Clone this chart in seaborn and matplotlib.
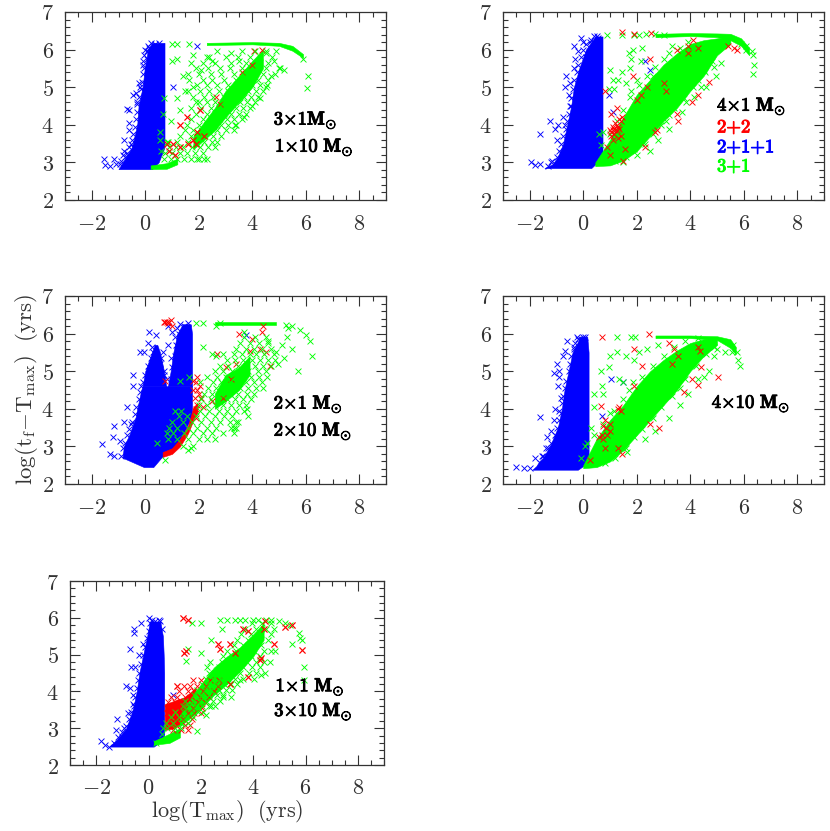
# Five panel scatter of log(t_f - T_max) against log(T_max)
import numpy as np
import matplotlib
matplotlib.use("Agg")
import matplotlib.pyplot as plt
import matplotlib.patheffects as pe
import seaborn as sns
from matplotlib.ticker import MultipleLocator

# ---------- DATA : dense regions as outlines, loose crosses as points ----------
X_TICKS = [-2, 0, 2, 4, 6, 8]
Y_TICKS = [2, 3, 4, 5, 6, 7]
X_LABEL = r"$\log(\mathrm{T}_{\mathrm{max}})\ \ (\mathrm{yrs})$"
Y_LABEL = r"$\log(\mathrm{t}_{\mathrm{f}}{-}\mathrm{T}_{\mathrm{max}})\ \ (\mathrm{yrs})$"

# panel 1
P1_BLUE_BAND = [(2.82, -1.0, 0.25), (3.0, -0.85, 0.5), (3.4, -0.5, 0.72), (4.0, -0.3, 0.72),
                (4.5, -0.25, 0.72), (5.0, -0.1, 0.72), (5.5, -0.02, 0.72), (6.0, 0.1, 0.72), (6.18, 0.25, 0.72)]
P1_GREEN_BANDS = [[(0.2, 2.82, 2.92), (0.8, 2.83, 2.98), (1.2, 2.95, 3.1)],
                  [(1.8, 3.35, 3.7), (2.6, 3.85, 4.45), (3.0, 4.2, 4.9), (3.5, 4.6, 5.3), (4.0, 5.0, 5.7), (4.4, 5.5, 6.0)],
                  [(2.3, 6.12, 6.18), (4.0, 6.14, 6.2), (5.0, 6.1, 6.18), (5.5, 5.97, 6.1), (5.9, 5.78, 5.88)]]
P1_BLUE = [(-1.55, 3.1), (-1.5, 2.93), (-1.3, 2.9), (-1.15, 3.1), (-1.1, 2.95), (-0.85, 3.2), (-0.8, 3.3),
           (-0.8, 3.6), (-0.6, 3.85), (-0.6, 4.05), (-0.7, 4.42), (-0.62, 4.4), (-0.45, 4.8), (-0.35, 4.85),
           (-0.25, 5.1), (-0.3, 4.6), (-0.2, 5.0), (-0.1, 5.6), (-0.05, 5.85), (0.0, 6.0), (0.05, 5.75),
           (0.15, 6.05), (0.2, 6.18), (0.3, 5.9), (1.05, 5.0), (1.95, 6.1), (-0.25, 3.9), (-0.45, 3.4), (-0.55, 3.5),
           (-0.95, 2.95), (-0.9, 3.05), (-0.75, 3.15), (-0.7, 3.25), (-0.6, 3.4), (-0.5, 3.6), (-0.45, 3.75),
           (-0.4, 3.95), (-0.35, 4.15), (-0.3, 4.35), (-0.3, 4.55), (-0.25, 4.75), (-0.15, 4.95), (-0.12, 5.15),
           (-0.1, 5.35), (-0.05, 5.5), (-0.1, 5.7), (0.05, 5.95), (0.1, 6.1), (0.35, 6.15), (0.5, 6.17)]
P1_RED = [(0.8, 3.5), (0.9, 3.3), (1.05, 3.5), (1.1, 3.2), (1.3, 3.4), (1.3, 4.0), (1.55, 4.2), (1.6, 3.5),
          (1.8, 3.6), (1.95, 3.8), (1.9, 3.5), (2.05, 4.4), (2.2, 3.7), (2.65, 4.75), (2.8, 4.55), (3.6, 5.4),
          (4.05, 5.95), (4.35, 6.0), (4.0, 5.6)]
P1_GREEN = [(0.7, 4.7), (0.65, 4.3), (0.55, 3.8), (0.55, 3.6), (0.6, 3.3), (0.95, 4.1), (0.85, 3.55), (1.0, 5.7),
            (1.2, 5.75), (1.0, 6.15), (1.2, 6.15), (1.65, 6.15), (1.7, 5.65), (1.8, 5.85), (2.1, 5.45), (1.4, 5.3),
            (1.6, 5.35), (1.2, 4.7), (1.3, 4.4), (1.5, 4.9), (1.8, 5.0), (1.9, 4.6), (2.3, 5.8), (2.5, 5.7),
            (3.2, 5.9), (3.5, 5.7), (2.0, 3.1), (2.3, 3.1), (2.6, 3.4), (3.3, 3.85), (3.4, 4.0), (3.7, 4.2),
            (4.0, 4.5), (4.3, 4.7), (4.5, 5.0), (4.7, 5.3), (5.05, 5.5), (4.8, 5.7), (4.5, 5.9), (5.2, 5.45),
            (6.1, 5.3), (6.05, 4.97), (5.9, 5.75)]
P1_GREEN_ROWS = [(3.1, [0.7, 0.95, 1.2, 1.45, 1.7, 1.95, 2.2]), (3.25, [0.75, 1.0, 1.3, 1.55, 1.85, 2.15]),
                 (3.4, [0.9, 1.15, 1.4, 1.75, 2.05, 2.35]), (3.55, [0.8, 1.2, 1.6, 1.9, 2.2, 2.5, 2.7]),
                 (3.7, [1.3, 1.7, 2.0, 2.25, 2.55, 2.85]), (3.85, [1.5, 1.8, 2.1, 2.4, 2.7, 3.0]),
                 (4.0, [1.55, 2.0, 2.3, 2.6, 2.85, 3.1, 3.35]), (4.15, [1.7, 2.15, 2.45, 2.75, 3.05, 3.3, 3.6]),
                 (4.3, [1.9, 2.3, 2.6, 2.95, 3.2, 3.5, 3.75]), (4.45, [1.7, 2.1, 2.45, 2.75, 3.1, 3.4, 3.65, 3.9]),
                 (4.6, [2.0, 2.3, 2.6, 2.9, 3.25, 3.55, 3.8, 4.1]), (4.75, [1.8, 2.2, 2.55, 2.95, 3.3, 3.7, 3.95, 4.2]),
                 (4.9, [1.6, 2.05, 2.4, 2.75, 3.1, 3.5, 3.85, 4.15, 4.4]), (5.05, [1.95, 2.3, 2.7, 3.1, 3.55, 4.0, 4.3, 4.55]),
                 (5.2, [1.65, 2.15, 2.5, 2.95, 3.4, 3.8, 4.2, 4.6]), (5.35, [2.0, 2.45, 2.85, 3.3, 3.65, 4.05, 4.4, 4.85]),
                 (5.5, [1.9, 2.35, 2.8, 3.15, 3.6, 4.15, 4.5, 5.0]), (5.65, [2.15, 2.6, 3.2, 3.75, 4.2, 4.6]),
                 (5.8, [2.4, 3.0, 3.45, 3.9, 4.3, 4.75]), (5.95, [2.7, 3.6, 4.1, 4.5, 4.9])]

# panel 2
P2_BLUE_BAND = [(2.85, -1.45, 0.3), (2.95, -1.15, 0.45), (3.15, -0.95, 0.72), (3.5, -0.75, 0.72), (4.0, -0.6, 0.72),
                (4.5, -0.45, 0.72), (5.0, -0.35, 0.72), (5.5, -0.15, 0.72), (6.0, 0.1, 0.72), (6.35, 0.45, 0.72)]
P2_GREEN_BANDS = [[(0.45, 2.9, 3.0), (1.0, 2.92, 3.6), (1.5, 3.05, 4.2), (2.0, 3.3, 4.8), (2.5, 3.7, 5.2),
                   (3.0, 4.1, 5.6), (3.5, 4.45, 5.9), (4.0, 4.9, 6.15), (4.5, 5.3, 6.25), (5.0, 5.85, 6.3), (5.5, 6.15, 6.35)],
                  [(2.7, 6.33, 6.42), (4.0, 6.36, 6.44), (5.0, 6.33, 6.43), (5.5, 6.25, 6.42), (5.9, 6.1, 6.3), (6.2, 5.85, 6.05)]]
P2_BLUE = [(-1.95, 3.0), (-1.8, 2.93), (-1.6, 2.95), (-1.6, 3.75), (-1.25, 4.1), (-1.15, 3.05), (-1.05, 3.9),
           (-1.0, 3.6), (-0.95, 4.0), (-0.85, 3.25), (-0.75, 4.2), (-0.7, 4.0), (-0.7, 5.0), (-0.65, 5.3),
           (-0.55, 4.8), (-0.5, 5.1), (-0.45, 4.5), (-0.35, 5.5), (-0.3, 5.75), (-0.2, 5.95), (-0.35, 6.1),
           (-0.1, 6.3), (0.0, 6.2), (0.1, 5.8), (0.25, 6.2), (0.4, 6.35), (0.55, 6.3), (0.1, 5.4), (0.95, 4.78),
           (1.1, 4.35), (2.3, 5.7), (2.5, 5.45),
           (-1.3, 2.9), (-1.2, 3.0), (-1.0, 3.15), (-0.9, 3.3), (-0.85, 3.5), (-0.75, 3.7), (-0.65, 3.9), (-0.6, 4.1),
           (-0.55, 4.3), (-0.5, 4.5), (-0.45, 4.7), (-0.4, 4.95), (-0.35, 5.2), (-0.25, 5.4), (-0.2, 5.6), (-0.1, 5.8),
           (0.0, 6.0), (0.1, 6.15), (0.3, 6.25), (0.5, 6.35)]
P2_GREEN = [(0.9, 6.4), (1.45, 6.4), (1.9, 6.4), (2.1, 6.4), (2.2, 6.05), (2.15, 5.7), (1.7, 5.9), (1.75, 5.5),
            (1.8, 5.75), (1.85, 6.0), (1.0, 5.45), (1.1, 5.2), (1.3, 5.2), (0.95, 4.95), (1.15, 4.95), (1.6, 5.1),
            (1.8, 4.9), (2.0, 5.2), (0.75, 3.8), (0.6, 3.75), (0.65, 3.45), (1.45, 5.4), (2.6, 5.3), (3.2, 5.9),
            (3.3, 6.1), (4.6, 5.0), (4.95, 5.3), (5.15, 5.65), (4.9, 5.55), (4.5, 5.45), (3.7, 4.35), (3.2, 3.9),
            (2.8, 3.6), (3.1, 4.1), (3.85, 4.6), (4.15, 4.75), (2.5, 3.3), (2.0, 3.2), (1.5, 3.0), (4.4, 5.0),
            (6.1, 6.0), (6.35, 5.85), (6.4, 5.6), (6.35, 5.35), (6.3, 5.95), (6.1, 6.1), (5.9, 6.15), (2.35, 6.42),
            (2.7, 6.42), (3.0, 6.4),
            (1.2, 3.05), (1.6, 3.15), (1.9, 3.35), (2.3, 3.5), (2.6, 3.75), (2.9, 4.0), (3.2, 4.25), (3.4, 4.45),
            (3.75, 4.7), (4.1, 5.0), (4.3, 5.2), (4.55, 5.4), (4.8, 5.7), (1.0, 3.75), (1.25, 4.1), (1.5, 4.4),
            (1.75, 4.75), (2.1, 5.05), (2.4, 5.3), (2.7, 5.55), (3.0, 5.75), (3.6, 6.05), (3.9, 6.2)]
P2_RED = [(1.45, 6.47), (2.55, 6.45), (1.9, 6.42), (0.8, 4.9), (1.05, 4.3), (1.25, 4.45), (1.0, 3.85), (1.1, 3.95),
          (1.15, 3.75), (1.2, 4.05), (1.3, 3.95), (1.4, 4.1), (1.45, 4.2), (1.25, 3.85), (1.3, 3.65), (1.4, 3.7),
          (1.1, 3.6), (0.9, 3.4), (1.0, 3.2), (1.55, 3.35), (2.0, 4.65), (1.85, 5.3), (2.15, 4.8), (2.5, 5.75),
          (2.4, 5.0), (3.0, 5.1), (3.1, 4.9), (3.55, 4.1), (3.5, 6.0), (3.9, 5.9), (3.9, 6.1), (4.1, 6.25),
          (4.3, 6.05), (5.4, 6.1), (5.65, 6.05), (5.75, 6.0), (4.7, 5.15), (4.3, 4.8), (4.05, 4.6), (3.5, 4.3),
          (2.7, 3.8), (2.75, 3.85), (2.3, 3.4), (1.5, 3.05), (1.05, 3.8), (1.15, 3.9), (1.2, 3.85), (1.25, 4.0),
          (1.35, 3.9), (1.05, 3.7), (1.35, 4.15), (1.1, 3.85)]

# panel 3
P3_BLUE_BAND = [(2.45, -0.05, 0.3), (2.7, -0.85, 0.6), (3.0, -0.8, 1.1), (3.3, -0.6, 1.4), (3.6, -0.45, 1.6),
                (3.8, -0.35, 1.75), (4.0, -0.3, 1.75), (4.5, -0.15, 1.75), (4.6, -0.1, 1.75)]
P3_BLUE_PEAKS = [[(4.6, -0.1, 0.78), (5.0, 0.0, 0.7), (5.5, 0.25, 0.55), (5.7, 0.35, 0.45)],
                 [(4.6, 0.85, 1.75), (5.0, 0.95, 1.75), (5.5, 1.05, 1.75), (6.0, 1.2, 1.75), (6.25, 1.4, 1.7)]]
P3_RED_BANDS = [[(0.65, 2.72, 2.85), (1.0, 2.8, 2.95), (1.3, 3.0, 3.2), (1.6, 3.35, 3.55), (1.8, 3.7, 4.05), (1.95, 3.9, 4.15)]]
P3_GREEN_BANDS = [[(2.6, 6.24, 6.3), (4.9, 6.24, 6.3)],
                  [(2.6, 4.0, 4.4), (3.0, 4.2, 4.9), (3.5, 4.5, 5.1), (3.9, 4.9, 5.4)]]
P3_BLUE = [(-1.6, 3.07), (-1.3, 2.8), (-1.15, 2.75), (-1.2, 3.25), (-1.15, 3.55), (-0.8, 3.65), (-0.55, 3.6),
           (-0.95, 3.15), (-0.7, 4.05), (-0.45, 4.6), (-0.45, 4.9), (-0.2, 5.5), (-0.05, 5.5), (0.1, 5.75),
           (0.15, 6.05), (0.4, 5.95), (0.25, 5.65), (0.45, 5.2), (0.6, 5.35), (0.85, 5.7), (1.0, 6.05), (1.1, 5.9),
           (1.2, 6.15), (1.3, 6.25), (1.6, 6.28), (0.85, 6.2), (0.95, 5.35), (-0.15, 4.6), (0.65, 5.5), (3.75, 5.95),
           (0.7, 5.0), (0.85, 4.4), (0.8, 4.8),
           (-0.9, 2.75), (-0.85, 2.95), (-0.75, 3.1), (-0.7, 3.3), (-0.6, 3.45), (-0.5, 3.65), (-0.4, 3.85),
           (-0.35, 4.05), (-0.25, 4.25), (-0.2, 4.45), (-0.1, 4.7), (-0.02, 4.9), (0.1, 5.15), (0.2, 5.35), (0.3, 5.5),
           (0.55, 5.2), (0.7, 4.9), (0.95, 4.8), (1.0, 5.1), (1.1, 5.4), (1.15, 5.7), (1.25, 6.0), (1.45, 6.2)]
P3_RED = [(0.7, 6.32), (0.8, 6.32), (0.9, 6.32), (0.75, 6.3), (0.85, 6.28), (0.95, 6.35), (1.0, 6.2), (0.75, 4.75),
          (1.8, 4.5), (1.95, 4.85), (2.05, 4.6), (2.1, 4.3), (1.95, 4.1), (1.85, 3.95), (1.9, 4.0), (2.5, 4.2),
          (2.7, 5.45), (3.0, 5.1), (3.4, 5.2), (3.5, 6.0), (4.0, 5.85), (4.35, 6.05), (4.4, 6.2), (4.5, 5.5),
          (4.65, 5.15), (4.3, 5.6), (3.9, 5.55), (3.2, 4.8), (2.9, 4.3), (1.85, 4.3), (1.9, 3.75), (1.9, 4.7),
          (2.0, 4.4), (1.8, 4.75), (2.15, 4.05), (1.95, 4.5)]
P3_GREEN = [(1.9, 6.27), (2.15, 6.27), (2.65, 6.2), (2.8, 6.27), (5.25, 6.22), (5.35, 6.15), (5.5, 6.2), (5.8, 6.1),
            (6.0, 5.95), (6.15, 5.8), (6.25, 5.4), (5.7, 5.0), (5.2, 5.35), (5.5, 5.6), (5.1, 5.7), (5.3, 5.9),
            (4.95, 5.2), (4.9, 5.5), (4.6, 5.8), (3.7, 6.05), (2.15, 5.65), (2.5, 5.45), (2.65, 5.4), (1.65, 4.85),
            (1.3, 4.75), (0.45, 3.1), (0.75, 2.65), (1.6, 2.9), (1.7, 2.95), (3.3, 3.5), (3.4, 3.65), (3.8, 4.0)]
P3_GREEN_ROWS = [(3.0, [1.4, 1.8]), (3.2, [0.85, 1.2, 1.6, 2.0, 2.3, 2.6]), (3.35, [0.8, 1.05, 1.45, 1.8, 2.15, 2.5, 2.9, 3.3]),
                 (3.5, [0.9, 1.2, 1.6, 1.95, 2.3, 2.65, 3.2, 3.4]), (3.65, [1.0, 1.4, 1.75, 2.1, 2.45, 2.8, 3.15, 3.45]),
                 (3.8, [1.25, 1.55, 1.9, 2.25, 2.6, 2.95, 3.25, 3.85]), (3.95, [1.1, 1.35, 2.05, 2.4, 2.75, 3.05, 3.4, 3.7]),
                 (4.1, [2.0, 2.3, 2.6, 2.9, 3.2, 3.5, 3.75]), (4.25, [2.1, 2.45, 2.75, 3.05, 3.35, 3.65, 3.95]),
                 (4.4, [2.2, 2.5, 2.85, 3.15, 3.45, 3.8, 4.05]), (4.55, [2.35, 2.65, 2.95, 3.25, 3.55, 3.85, 4.15, 4.4]),
                 (4.7, [2.05, 2.55, 2.85, 3.15, 3.45, 3.75, 4.05, 4.35]), (4.85, [2.3, 2.7, 3.0, 3.3, 3.65, 3.95, 4.25, 4.55]),
                 (5.0, [2.6, 2.9, 3.25, 3.55, 3.85, 4.2, 4.5]), (5.15, [2.8, 3.1, 3.45, 3.75, 4.1, 4.4, 4.7]),
                 (5.3, [3.05, 3.35, 3.65, 4.0, 4.3, 4.6, 4.85]), (5.45, [2.9, 3.3, 3.6, 3.9, 4.15, 4.45, 4.8]),
                 (5.6, [3.4, 3.75, 4.05, 4.35, 4.7]), (5.75, [3.55, 3.9, 4.25, 4.6]), (5.9, [3.7, 4.1, 4.5])]

# panel 4
P4_BLUE_BAND = [(2.38, -1.9, -0.2), (2.48, -1.75, 0.0), (2.6, -1.65, 0.2), (2.7, -1.5, 0.2), (3.0, -1.25, 0.2),
                (3.5, -0.95, 0.2), (4.0, -0.8, 0.2), (4.5, -0.7, 0.2), (5.0, -0.55, 0.2), (5.5, -0.4, 0.2), (5.92, -0.1, 0.15)]
P4_GREEN_BANDS = [[(0.0, 2.42, 2.5), (0.5, 2.45, 3.2), (1.0, 2.6, 3.7), (1.5, 2.9, 4.1), (2.0, 3.3, 4.6), (2.5, 3.7, 5.0),
                   (3.0, 4.1, 5.3), (3.5, 4.5, 5.55), (4.0, 5.0, 5.75), (4.5, 5.4, 5.85), (5.0, 5.7, 5.9)],
                  [(2.7, 5.88, 5.95), (4.0, 5.88, 5.95), (5.0, 5.83, 5.93), (5.5, 5.62, 5.85), (5.7, 5.45, 5.65)]]
P4_BLUE = [(-2.5, 2.45), (-2.2, 2.42), (-2.0, 2.42), (-1.8, 2.7), (-1.55, 2.75), (-1.6, 3.77), (-1.4, 2.95),
           (-1.35, 3.25), (-1.2, 3.4), (-1.1, 3.7), (-1.05, 4.0), (-1.0, 5.2), (-1.1, 4.95), (-0.9, 4.85),
           (-0.95, 4.6), (-0.9, 5.0), (-0.75, 5.4), (-0.7, 5.55), (-0.6, 5.8), (-0.3, 5.75), (-0.25, 5.92),
           (-0.1, 5.85), (0.05, 5.9), (-0.35, 5.6), (0.7, 3.8), (1.05, 4.8), (1.5, 4.72), (-0.85, 4.3),
           (-0.75, 3.6), (-0.9, 3.95),
           (-1.6, 2.55), (-1.5, 2.75), (-1.3, 2.95), (-1.2, 3.1), (-1.05, 3.3), (-1.0, 3.5), (-0.9, 3.7), (-0.85, 3.9),
           (-0.8, 4.15), (-0.75, 4.35), (-0.7, 4.55), (-0.65, 4.75), (-0.55, 5.0), (-0.5, 5.2), (-0.45, 5.4),
           (-0.35, 5.65), (-0.2, 5.85), (0.0, 5.92)]
P4_RED = [(0.7, 5.92), (2.45, 5.98), (0.65, 4.08), (1.35, 4.05), (1.3, 4.0), (1.4, 3.95), (0.8, 3.7), (0.75, 3.55),
          (0.85, 3.5), (0.7, 3.3), (0.6, 3.25), (0.75, 3.2), (0.9, 3.3), (1.0, 3.4), (1.0, 3.6), (1.45, 2.8),
          (1.3, 2.95), (0.8, 2.95), (0.25, 2.65), (2.85, 3.48), (2.5, 3.6), (4.3, 4.63), (5.05, 4.85), (4.05, 4.8),
          (4.4, 5.1), (3.75, 4.45), (1.9, 4.6), (2.2, 5.15), (1.9, 5.6), (3.2, 5.75), (3.4, 5.6), (3.55, 5.4),
          (4.3, 5.65), (4.35, 5.55), (3.3, 5.2)]
P4_GREEN = [(1.25, 5.9), (1.8, 5.9), (1.95, 5.9), (1.0, 5.4), (1.25, 5.5), (0.95, 5.1), (0.65, 5.0), (0.7, 4.6),
            (0.75, 4.4), (0.4, 4.4), (0.4, 4.05), (0.3, 3.5), (0.05, 3.0), (-0.1, 2.7), (0.15, 3.1), (1.6, 5.4),
            (1.9, 5.3), (2.1, 5.5), (2.4, 5.6), (2.8, 5.7), (5.0, 5.6), (5.3, 5.5), (5.55, 5.5), (5.6, 5.7),
            (5.75, 5.5), (5.8, 5.3), (5.85, 5.15), (4.9, 5.4), (4.7, 5.0), (4.5, 4.85), (1.5, 4.7), (1.7, 4.5),
            (1.35, 4.8), (3.9, 4.4), (3.6, 4.1), (3.2, 3.75), (2.7, 3.4), (2.3, 3.2), (1.65, 2.85), (4.3, 4.8), (1.0, 3.9),
            (0.8, 2.55), (1.2, 2.7), (1.6, 2.95), (1.9, 3.25), (2.2, 3.45), (2.6, 3.75), (2.9, 4.05), (3.3, 4.35),
            (3.6, 4.55), (3.8, 4.8), (4.2, 5.15), (4.6, 5.45), (4.9, 5.65), (0.4, 3.3), (0.75, 3.6), (1.15, 3.95),
            (1.5, 4.25), (1.85, 4.7), (2.2, 4.85), (2.6, 5.15), (3.0, 5.4), (3.4, 5.65), (3.8, 5.8), (4.3, 5.88)]

# panel 5
P5_BLUE_BAND = [(2.5, -1.5, 0.2), (2.7, -1.2, 0.6), (3.0, -0.85, 0.6), (3.5, -0.6, 0.6), (4.0, -0.45, 0.6),
                (4.5, -0.35, 0.6), (5.0, -0.2, 0.58), (5.5, -0.05, 0.55), (5.9, 0.05, 0.45)]
P5_RED_BANDS = [[(0.62, 2.95, 3.65), (1.0, 3.0, 3.75), (1.4, 3.2, 3.85), (1.8, 3.5, 4.1)]]
P5_GREEN_BANDS = [[(0.2, 2.55, 2.65), (0.8, 2.6, 2.85), (1.2, 2.75, 3.0)],
                  [(1.2, 3.05, 3.4), (1.8, 3.4, 4.0), (2.5, 3.9, 4.65), (3.0, 4.2, 4.95), (3.5, 4.55, 5.2),
                   (4.0, 4.95, 5.55), (4.4, 5.4, 5.85)]]
P5_BLUE = [(-1.8, 2.65), (-1.65, 2.55), (-1.5, 2.5), (-1.25, 2.95), (-1.2, 3.25), (-1.0, 2.75), (-0.85, 4.15),
           (-0.7, 4.1), (-0.65, 4.65), (-0.7, 5.15), (-0.55, 5.6), (-0.55, 5.7), (-0.3, 5.85), (0.0, 6.0),
           (0.25, 5.9), (0.4, 5.95), (-0.5, 4.65), (-0.6, 3.9), (-0.55, 3.6), (-0.8, 3.4), (-0.2, 5.3),
           (-0.35, 5.0), (0.95, 3.9), (-0.95, 3.0),
           (-1.3, 2.6), (-1.15, 2.75), (-1.0, 2.9), (-0.85, 3.05), (-0.75, 3.25), (-0.65, 3.45), (-0.6, 3.65),
           (-0.5, 3.85), (-0.45, 4.1), (-0.4, 4.3), (-0.35, 4.5), (-0.3, 4.75), (-0.2, 5.0), (-0.15, 5.2), (-0.05, 5.45),
           (0.0, 5.65), (0.05, 5.85), (0.15, 5.95), (0.45, 5.9), (0.52, 5.7)]
P5_RED = [(1.3, 6.0), (1.5, 5.95), (1.35, 5.05), (1.45, 5.1), (1.1, 4.15), (2.65, 5.3), (2.75, 5.15), (3.1, 5.3),
          (3.3, 5.05), (3.6, 5.7), (3.8, 5.65), (4.4, 5.7), (4.45, 5.9), (4.8, 5.3), (5.2, 5.75), (5.5, 5.8),
          (5.85, 5.12), (4.25, 4.85), (4.3, 4.9), (3.8, 4.4), (3.1, 4.2)]
P5_RED_ROWS = [(2.95, [0.95, 1.25, 1.5]), (3.1, [0.7, 1.05, 1.4, 1.6]), (3.25, [0.75, 1.0, 1.3, 1.65]),
               (3.4, [0.7, 0.95, 1.2, 1.5, 1.75, 2.0]), (3.55, [0.7, 0.9, 1.15, 1.4, 1.7, 2.05]),
               (3.7, [0.75, 1.0, 1.25, 1.45, 1.65, 1.9, 2.15]), (3.85, [0.85, 1.1, 1.4, 1.65, 1.95, 2.3]),
               (4.0, [1.15, 1.5, 1.75, 2.1, 2.5]), (4.15, [1.35, 1.6, 1.85, 2.2, 2.65]), (4.3, [1.7, 2.0, 2.35, 2.7])]
P5_GREEN = [(2.75, 5.95), (3.0, 5.95), (3.3, 5.95), (3.5, 5.95), (3.7, 5.95), (4.0, 5.95), (4.2, 5.95), (4.5, 5.93),
            (4.7, 5.93), (5.0, 5.9), (5.2, 5.85), (5.4, 5.8), (5.75, 5.6), (5.8, 5.45), (5.85, 5.4), (5.5, 5.3),
            (5.95, 4.65), (5.95, 4.3), (1.5, 5.15), (1.45, 4.82), (1.65, 5.85), (2.0, 5.85), (2.0, 5.05), (2.4, 5.4),
            (2.8, 5.7), (4.7, 5.1), (4.85, 5.1), (4.65, 4.8), (4.45, 4.5), (4.3, 4.45), (4.05, 4.35), (3.5, 4.3),
            (3.15, 3.85), (2.85, 3.85), (2.4, 3.6), (2.2, 3.35), (1.85, 2.93), (0.55, 3.0), (0.5, 2.85), (0.3, 2.6)]
P5_GREEN_ROWS = [(3.0, [0.7, 1.0, 1.25]), (3.15, [0.65, 0.95, 1.25, 1.5]), (3.3, [0.85, 1.15, 1.45, 1.7]),
                 (3.45, [1.0, 1.35, 1.65, 1.9, 2.1]), (3.6, [1.3, 1.55, 1.8, 2.05, 2.3, 2.55]),
                 (3.75, [1.4, 1.7, 1.95, 2.2, 2.45, 2.75]), (3.9, [1.75, 2.05, 2.3, 2.6, 2.85]),
                 (4.05, [1.85, 2.15, 2.4, 2.7, 2.95, 3.2]), (4.2, [2.05, 2.3, 2.6, 2.9, 3.15, 3.4]),
                 (4.35, [2.2, 2.45, 2.75, 3.05, 3.3, 3.6]), (4.5, [2.3, 2.55, 2.85, 3.2, 3.5, 3.85, 4.1]),
                 (4.65, [2.25, 2.7, 3.0, 3.3, 3.6, 3.95, 4.25]), (4.8, [2.35, 2.8, 3.1, 3.45, 3.75, 4.1, 4.4]),
                 (4.95, [2.85, 3.2, 3.55, 3.9, 4.25]), (5.1, [3.0, 3.35, 3.7, 4.05, 4.4]), (5.25, [3.25, 3.6, 3.95, 4.3]),
                 (5.4, [3.4, 3.8, 4.15, 4.55]), (5.55, [3.55, 3.9, 4.3, 4.7]), (5.7, [3.7, 4.1, 4.5, 4.8]),
                 (5.85, [3.95, 4.35, 4.7])]

# annotations : text, x, y, colour
P1_NOTES = [(r"3{\times}1\mathbf{M}_{\odot}", 4.8, 4.13, "black"), (r"1{\times}10\ \mathbf{M}_{\odot}", 4.85, 3.41, "black")]
P2_NOTES = [(r"4{\times}1\ \mathbf{M}_{\odot}", 5.0, 4.5, "black"), (r"2{+}2", 5.0, 3.94, "red"),
            (r"2{+}1{+}1", 5.0, 3.41, "blue"), (r"3{+}1", 5.0, 2.9, "lime")]
P3_NOTES = [(r"2{\times}1\ \mathbf{M}_{\odot}", 4.8, 4.13, "black"), (r"2{\times}10\ \mathbf{M}_{\odot}", 4.8, 3.41, "black")]
P4_NOTES = [(r"4{\times}10\ \mathbf{M}_{\odot}", 4.8, 4.15, "black")]
P5_NOTES = [(r"1{\times}1\ \mathbf{M}_{\odot}", 4.85, 4.13, "black"), (r"3{\times}10\ \mathbf{M}_{\odot}", 4.8, 3.46, "black")]

# ---------- STYLE ----------
sns.set_theme(style="ticks")
plt.rcParams["mathtext.fontset"] = "cm"
plt.rcParams["font.family"] = ["DejaVu Serif"]

BLUE, RED, GREEN = "#0000ff", "#ff0000", "#00ff00"
W, H = 830, 831

fig = plt.figure(figsize=(W / 100, H / 100), dpi=100)


def add_panel(left, top, right, bottom):
    ax = fig.add_axes([left / W, 1 - bottom / H, (right - left) / W, (bottom - top) / H])
    ax.set_xlim(-3, 9)
    ax.set_ylim(2, 7)
    ax.set_xticks(X_TICKS)
    ax.set_xticklabels([f"${v}$" for v in X_TICKS])
    ax.set_yticks(Y_TICKS)
    ax.set_yticklabels([f"${v}$" for v in Y_TICKS])
    ax.xaxis.set_minor_locator(MultipleLocator(0.5))
    ax.yaxis.set_minor_locator(MultipleLocator(0.2))
    ax.tick_params(which="major", direction="in", top=True, right=True, length=7, width=0.8,
                   color="#333333", labelsize=16, labelcolor="#333333")
    ax.tick_params(axis="x", which="major", pad=9)
    ax.tick_params(axis="y", which="major", pad=8)
    ax.tick_params(which="minor", direction="in", top=True, right=True, length=3.5, width=0.8, color="#333333")
    for spine in ax.spines.values():
        spine.set_linewidth(0.9)
        spine.set_color("#333333")
    return ax


def rows_to_pts(rows):
    return [(x, y) for y, xs in rows for x in xs]


def draw_crosses(ax, pts, color):
    xy = np.array(pts)
    sns.scatterplot(x=xy[:, 0], y=xy[:, 1], marker="x", color=color, s=18, linewidth=0.65, ax=ax, zorder=4)


def fill_y_band(ax, band, color):
    b = np.array(band)
    ax.fill_betweenx(b[:, 0], b[:, 1], b[:, 2], color=color, linewidth=0.4, zorder=2)


def fill_x_bands(ax, bands, color):
    for band in bands:
        b = np.array(band)
        ax.fill_between(b[:, 0], b[:, 1], b[:, 2], color=color, linewidth=0.4, zorder=3)


def add_notes(ax, notes):
    for txt, x, y, col in notes:
        ax.text(x, y, rf"$\mathbf{{{txt}}}$", color=col, fontsize=13.5, va="center", ha="left", zorder=6,
                path_effects=[pe.withStroke(linewidth=0.7, foreground=col)])


# ---------- PANELS ----------
ax1 = add_panel(65, 12, 386, 200)
fill_y_band(ax1, P1_BLUE_BAND, BLUE)
draw_crosses(ax1, P1_BLUE, BLUE)
draw_crosses(ax1, P1_RED, RED)
fill_x_bands(ax1, P1_GREEN_BANDS, GREEN)
draw_crosses(ax1, P1_GREEN + rows_to_pts(P1_GREEN_ROWS), GREEN)
draw_crosses(ax1, P1_RED[:13], RED)
add_notes(ax1, P1_NOTES)

ax2 = add_panel(503, 12, 824, 200)
fill_y_band(ax2, P2_BLUE_BAND, BLUE)
draw_crosses(ax2, P2_BLUE, BLUE)
fill_x_bands(ax2, P2_GREEN_BANDS, GREEN)
draw_crosses(ax2, P2_GREEN, GREEN)
draw_crosses(ax2, P2_RED, RED)
add_notes(ax2, P2_NOTES)

ax3 = add_panel(65, 296, 386, 484)
fill_y_band(ax3, P3_BLUE_BAND, BLUE)
for peak in P3_BLUE_PEAKS:
    fill_y_band(ax3, peak, BLUE)
draw_crosses(ax3, P3_BLUE, BLUE)
fill_x_bands(ax3, P3_RED_BANDS, RED)
draw_crosses(ax3, P3_RED, RED)
fill_x_bands(ax3, P3_GREEN_BANDS, GREEN)
draw_crosses(ax3, P3_GREEN + rows_to_pts(P3_GREEN_ROWS), GREEN)
add_notes(ax3, P3_NOTES)
ax3.set_ylabel(Y_LABEL, fontsize=16.5, color="#333333", labelpad=1)

ax4 = add_panel(503, 296, 824, 484)
fill_y_band(ax4, P4_BLUE_BAND, BLUE)
draw_crosses(ax4, P4_BLUE, BLUE)
fill_x_bands(ax4, P4_GREEN_BANDS, GREEN)
draw_crosses(ax4, P4_GREEN, GREEN)
draw_crosses(ax4, P4_RED, RED)
add_notes(ax4, P4_NOTES)

ax5 = add_panel(70, 581, 384, 765)
fill_y_band(ax5, P5_BLUE_BAND, BLUE)
draw_crosses(ax5, P5_BLUE, BLUE)
fill_x_bands(ax5, P5_RED_BANDS, RED)
draw_crosses(ax5, P5_RED + rows_to_pts(P5_RED_ROWS), RED)
fill_x_bands(ax5, P5_GREEN_BANDS, GREEN)
draw_crosses(ax5, P5_GREEN + rows_to_pts(P5_GREEN_ROWS), GREEN)
draw_crosses(ax5, P5_RED, RED)
add_notes(ax5, P5_NOTES)
ax5.set_xlabel(X_LABEL, fontsize=16, color="#333333", labelpad=-1)

fig.savefig("out.png", dpi=100)
